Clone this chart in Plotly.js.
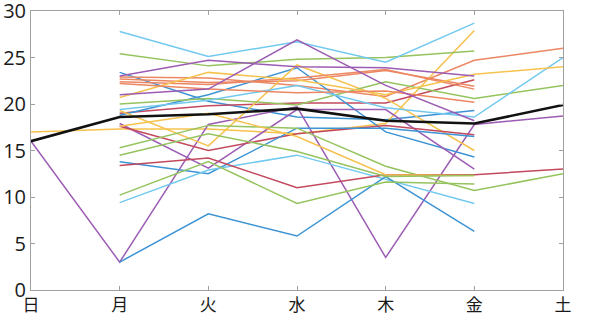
<!DOCTYPE html>
<html><head><meta charset="utf-8">
<script src="https://cdn.plot.ly/plotly-3.0.1.min.js"></script>
<style>html,body{margin:0;padding:0;background:#fff;}#c{width:600px;height:316px;}</style>
</head><body><div id="c"></div>
<script>
const days = ['日','月','火','水','木','金','土'];
const yTicks = [0,5,10,15,20,25,30];

// series values per day (null = no value)
const blue1   = [null, 23.4, 20.3, 18.6, 18.3, 19.3, null];
const orange1 = [null, 22.9, 22.8, 22.0, 20.8, 24.7, 26.0];
const yellow1 = [17.0, 17.3, 17.3, 16.8, 17.9, 27.9, null];
const purple1 = [16.0, 3.0, 17.8, 19.7, 3.5, 17.8, 18.7];
const green1  = [null, 25.4, 24.1, 24.8, 25.0, 25.7, null];
const cyan1   = [null, 27.8, 25.1, 26.7, 24.5, 28.7, null];
const red1    = [null, 19.0, 19.8, 20.1, 20.1, 22.6, null];
const blue2   = [null, 18.8, 21.0, 23.9, 17.0, 14.3, null];
const orange2 = [null, 22.7, 22.3, 22.5, 23.6, 21.9, null];
const yellow2 = [null, 19.3, 15.5, 24.2, 20.6, 15.0, null];
const purple2 = [null, 17.9, 13.1, 19.4, 19.4, 13.0, null];
const green2  = [null, 20.0, 20.6, 19.9, 22.4, 20.6, 22.0];
const cyan2   = [null, 19.4, 20.4, 22.0, 19.6, 18.6, 25.0];
const red2    = [null, 17.6, 15.0, 16.8, 17.7, 16.7, null];
const blue3   = [null, 13.8, 12.5, 17.4, 17.4, 16.5, null];
const orange3 = [null, 22.4, 22.1, 22.8, 23.7, 21.6, null];
const yellow3 = [null, 20.7, 23.4, 22.6, 21.0, 23.2, 24.0];
const purple3 = [null, 23.0, 24.7, 24.0, 23.9, 23.0, null];
const green3  = [null, 15.3, 17.7, 17.4, 13.3, 10.7, 12.5];
const cyan3   = [null, 9.4, 12.9, 14.5, 11.9, 9.3, null];
const red3    = [null, 13.4, 14.2, 11.0, 12.4, 12.4, 13.0];
const blue4   = [null, 3.0, 8.2, 5.8, 12.2, 6.3, null];
const orange4 = [null, 22.2, 21.6, 21.2, 21.4, 20.2, null];
const yellow4 = [null, 17.6, 19.0, 16.5, 12.4, 12.3, null];
const purple4 = [null, 21.0, 21.6, 26.9, 22.0, 18.2, null];
const green4  = [null, 14.5, 16.8, 14.9, 12.2, 12.3, null];
const green5  = [null, 10.2, 13.8, 9.3, 11.6, 11.4, null];
const meanLine = [16.0, 18.6, 18.9, 19.5, 18.2, 17.9, 19.9];

const C = {blue:'#3d93d4', orange:'#ec8763', yellow:'#f6c24e', purple:'#9c5cb4',
           green:'#95c35e', cyan:'#72c9f0', red:'#c2495e'};

const series = [
  [blue1,C.blue],[orange1,C.orange],[yellow1,C.yellow],[purple1,C.purple],[green1,C.green],[cyan1,C.cyan],[red1,C.red],
  [blue2,C.blue],[orange2,C.orange],[yellow2,C.yellow],[purple2,C.purple],[green2,C.green],[cyan2,C.cyan],[red2,C.red],
  [blue3,C.blue],[orange3,C.orange],[yellow3,C.yellow],[purple3,C.purple],[green3,C.green],[cyan3,C.cyan],[red3,C.red],
  [blue4,C.blue],[orange4,C.orange],[yellow4,C.yellow],[purple4,C.purple],[green4,C.green],[green5,C.green]
];

const traces = series.map(([v,c]) => ({
  x: days, y: v, type:'scatter', mode:'lines', connectgaps:false,
  line:{color:c, width:1.5}, hoverinfo:'skip', showlegend:false
}));
traces.push({x: days, y: meanLine, type:'scatter', mode:'lines',
  line:{color:'#111', width:2.6}, showlegend:false});

const axisCommon = {showgrid:false, zeroline:false, showline:true, linecolor:'#a0a0a0', linewidth:1,
  mirror:'allticks', ticks:'inside', ticklen:4, tickcolor:'#a0a0a0', ticklabeloverflow:'allow'};

const layout = {
  width:600, height:316,
  margin:{l:31, r:37, t:11, b:26, pad:0},
  paper_bgcolor:'#fff', plot_bgcolor:'#fff',
  font:{family:'"Noto Sans CJK JP", "Noto Sans", sans-serif', color:'#1a1a1a'},
  xaxis: Object.assign({}, axisCommon, {type:'category', categoryorder:'array', categoryarray:days,
     range:[0,6], ticklabelstandoff:0, tickfont:{size:17, family:'"Noto Sans CJK JP", sans-serif'}}),
  yaxis: Object.assign({}, axisCommon, {range:[0,30], tickvals:yTicks, ticktext:yTicks.map(String),
     tickfont:{size:20, family:'"Open Sans", "Noto Sans", sans-serif'}}),
  showlegend:false
};

Plotly.newPlot('c', traces, layout, {staticPlot:true, displayModeBar:false});
</script></body></html>
